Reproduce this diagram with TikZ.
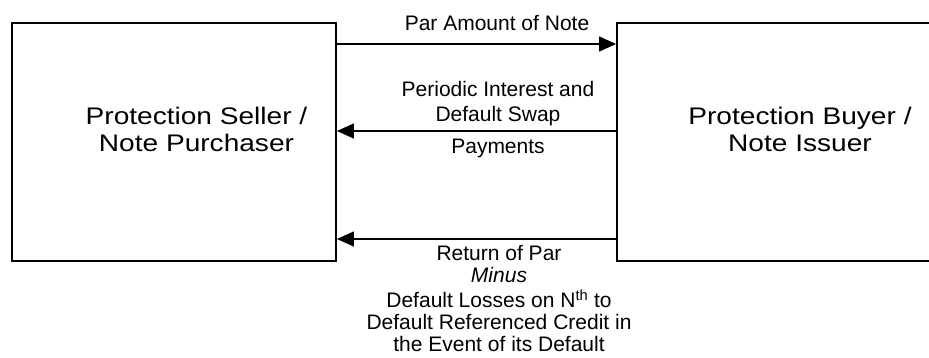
\documentclass[tikz,border=0pt]{standalone}
\usepackage{fontspec}
\setmainfont{Liberation Sans}
\newfontfamily\widefont[FakeStretch=1.17]{Liberation Sans}
\usetikzlibrary{arrows.meta}
\begin{document}
\begin{tikzpicture}[x=1pt,y=-1pt,
  party/.style={draw=black, line width=1.8pt, rectangle, inner sep=0pt},
  partylabel/.style={anchor=base, inner sep=0pt, align=center,
    font=\widefont\fontsize{24}{26.7}\selectfont},
  flow/.style={line width=1.3pt, -{Triangle[length=17pt,width=15pt]}},
  flowlabel/.style={anchor=base, inner sep=0pt, align=center,
    font=\fontsize{21}{25}\selectfont}]
\useasboundingbox (0,0) rectangle (929,358);

% the two parties (multi-line labels are placed by the baseline of their last line)
\node[party, minimum width=324pt, minimum height=238pt] (L) at (174,142) {};
\node[party, minimum width=323pt, minimum height=238pt] (R) at (778.5,142) {};

\node[partylabel] (Llab) at (196.5,151.7) {Protection Seller /\\Note Purchaser};
\node[partylabel] (Rlab) at (800,151.7) {Protection Buyer /\\Note Issuer};

% cash flows between the parties
\draw[flow] ([yshift=98pt]L.east) -- ([yshift=98pt]R.west);
\draw[flow] ([yshift=11pt]R.west) -- ([yshift=11pt]L.west -| L.east);
\draw[flow] ([yshift=-97pt]R.west) -- ([yshift=-97pt]L.west -| L.east);

\node[flowlabel] (par) at (497,31) {Par Amount of Note};
\node[flowlabel] (pay) at (498,121.7) {Periodic Interest and\\Default Swap};
\node[flowlabel] (pay2) at (498,153.3) {Payments};
\node[flowlabel, font=\fontsize{21}{22}\selectfont] (ret) at (499,351.7)
  {Return of Par\\\textit{Minus}\\[3pt]Default Losses on N\textsuperscript{th} to\\Default Referenced Credit in\\the Event of its Default};
\end{tikzpicture}
\end{document}
